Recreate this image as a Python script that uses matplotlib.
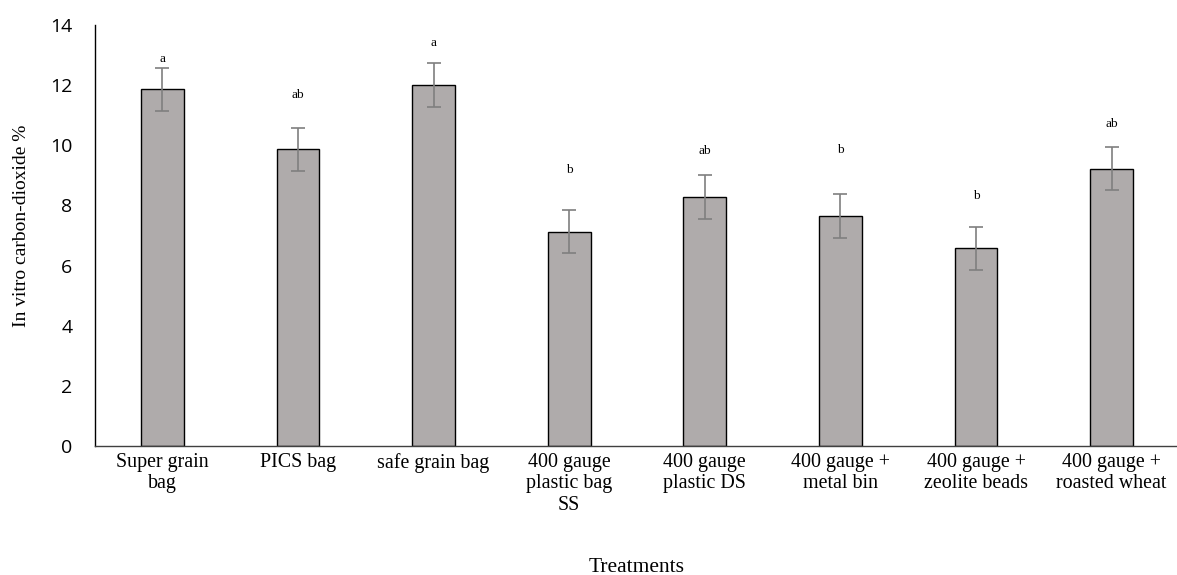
import matplotlib
matplotlib.use("Agg")
import matplotlib.pyplot as plt
import numpy as np


TREATMENTS = [
    "Super grain\nbag",
    "PICS bag",
    "safe grain bag",
    "400 gauge\nplastic bag\nSS",
    "400 gauge\nplastic DS",
    "400 gauge +\nmetal bin",
    "400 gauge +\nzeolite beads",
    "400 gauge +\nroasted wheat",
]
CO2_MEAN = [11.86, 9.87, 12.00, 7.13, 8.28, 7.64, 6.57, 9.22]
CO2_ERR = [0.72, 0.71, 0.72, 0.72, 0.73, 0.73, 0.72, 0.72]
LETTERS = ["a", "ab", "a", "b", "ab", "b", "b", "ab"]
LETTER_Y = [12.88, 11.67, 13.41, 9.18, 9.82, 9.84, 8.31, 10.70]
Y_TICKS = [0, 2, 4, 6, 8, 10, 12, 14]

W, H = 1177, 575


def main():
    fig = plt.figure(figsize=(W / 100, H / 100), dpi=100)
    ax = fig.add_axes([94.5 / W, 129 / H, 1085 / W, 421 / H])

    x = np.arange(len(TREATMENTS))
    ax.bar(
        x, CO2_MEAN, width=0.315, color="#afabab",
        edgecolor="black", linewidth=1.0, zorder=2,
    )
    ax.errorbar(
        x, CO2_MEAN, yerr=CO2_ERR, fmt="none", ecolor="#7f7f7f",
        elinewidth=1.2, capsize=5, capthick=1.2, zorder=3,
    )
    for xi, yi, letter in zip(x, LETTER_Y, LETTERS):
        ax.text(xi, yi, letter, ha="center", va="center",
                fontsize=9.5, family="Liberation Serif")

    ax.set_xlim(-0.5, len(TREATMENTS) - 0.5)
    ax.set_ylim(0, 14)
    ax.set_yticks(Y_TICKS)
    ax.set_xticks(x)
    ax.set_xticklabels(TREATMENTS, family="Liberation Serif", fontsize=14.4,
                       linespacing=1.17)
    for lbl in ax.get_yticklabels():
        lbl.set_family("Open Sans")
        lbl.set_fontsize(14)
    ax.tick_params(axis="y", length=0, pad=16)
    ax.tick_params(axis="x", length=0, pad=5)

    for side in ("top", "right"):
        ax.spines[side].set_visible(False)
    ax.spines["left"].set_color("black")
    ax.spines["bottom"].set_color("#404040")
    ax.spines["left"].set_linewidth(1.0)
    ax.spines["bottom"].set_linewidth(1.0)

    fig.text(22 / W, 1 - 226 / H, "In vitro carbon-dioxide %",
             rotation=90, ha="center", va="center",
             family="Liberation Serif", fontsize=14)
    fig.text(637 / W, 8 / H, "Treatments", ha="center", va="center",
             family="Liberation Serif", fontsize=15.5)

    fig.savefig("out.png", dpi=100)
    plt.close(fig)


if __name__ == "__main__":
    main()
